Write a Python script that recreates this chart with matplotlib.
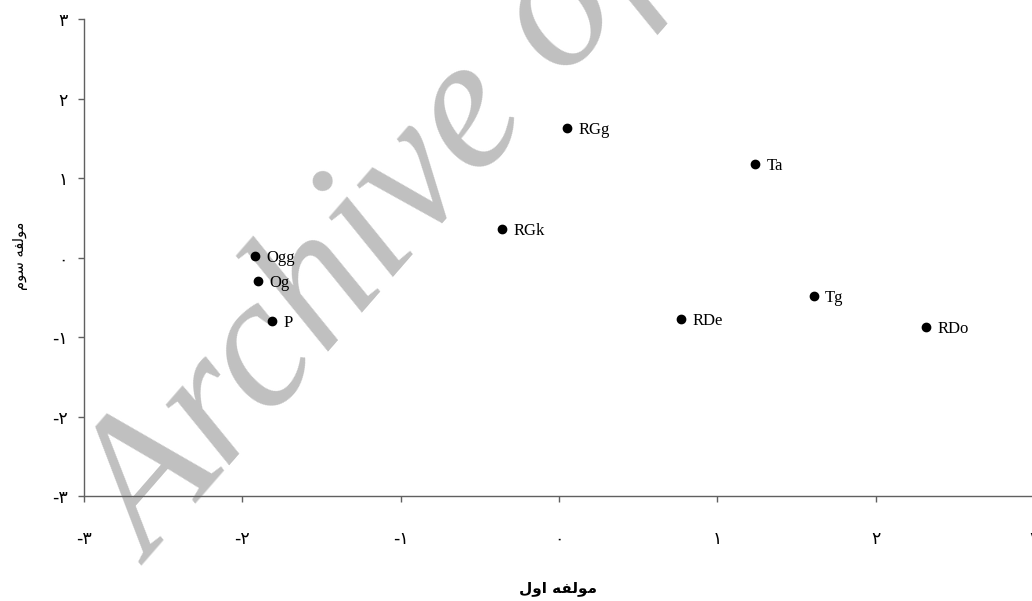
import matplotlib
matplotlib.use('Agg')
import matplotlib.pyplot as plt

# component scores (first component vs third component)
names = ['Ogg', 'Og', 'P', 'RGk', 'RGg', 'Ta', 'RDe', 'Tg', 'RDo']
comp1 = [-1.92, -1.90, -1.81, -0.36, 0.05, 1.24, 0.77, 1.61, 2.32]
comp3 = [0.02, -0.29, -0.80, 0.36, 1.63, 1.18, -0.77, -0.48, -0.87]

ticks = [-3, -2, -1, 0, 1, 2, 3]
tick_labels = ['-۳', '-۲', '-۱', '۰', '۱', '۲', '۳']

# arabic labels given in shaped visual order (matplotlib has no bidi/shaping)
xlabel = '\uFEDD\uFEED\uFE8D \uFEEA\uFED4\uFEDF\uFEEE\uFEE3'   # مولفه اول
ylabel = '\uFEE1\uFEEE\uFEB3 \uFEEA\uFED4\uFEDF\uFEEE\uFEE3'   # مولفه سوم

fig = plt.figure(figsize=(10.32, 6.01), dpi=100)
ax = fig.add_axes([84/1032, 105/601, 950/1032, 477/601])
ax.set_zorder(1)
ax.patch.set_alpha(0)

# watermark
fig.text(152/1032, 1 - 566/601, 'Archive of SID', fontsize=137,
         family='Liberation Serif', style='italic',
         color='#c0c0c0', rotation=49, rotation_mode='anchor',
         ha='left', va='baseline', zorder=0)

ax.plot(comp1, comp3, 'o', color='black', markersize=6, clip_on=False)
for n, x, y in zip(names, comp1, comp3):
    ax.annotate(n, (x, y), xytext=(8, -4.5), textcoords='offset points',
                va='baseline', ha='left', fontsize=12, family='Liberation Serif')

ax.set_xlim(-3, 3)
ax.set_ylim(-3, 3)
ax.set_xticks(ticks)
ax.set_xticklabels(tick_labels, family='DejaVu Sans', fontsize=12.5)
ax.set_yticks(ticks)
ax.set_yticklabels(tick_labels, family='DejaVu Sans', fontsize=12.5)

for s in ['top', 'right']:
    ax.spines[s].set_visible(False)
for s in ['left', 'bottom']:
    ax.spines[s].set_color('#606060')
    ax.spines[s].set_linewidth(1.0)
ax.tick_params(axis='both', colors='#606060', length=4.5, width=1.0, labelcolor='black')
ax.tick_params(axis='x', pad=20)
ax.tick_params(axis='y', pad=7)

fig.text(558/1032, 1 - 588/601, xlabel, ha='center', va='center',
         fontsize=11, weight='bold', family='DejaVu Sans')
fig.text(20/1032, 1 - 256/601, ylabel, ha='center', va='center',
         rotation=90, fontsize=10.5, family='DejaVu Sans')

fig.savefig('out.png', dpi=100)
